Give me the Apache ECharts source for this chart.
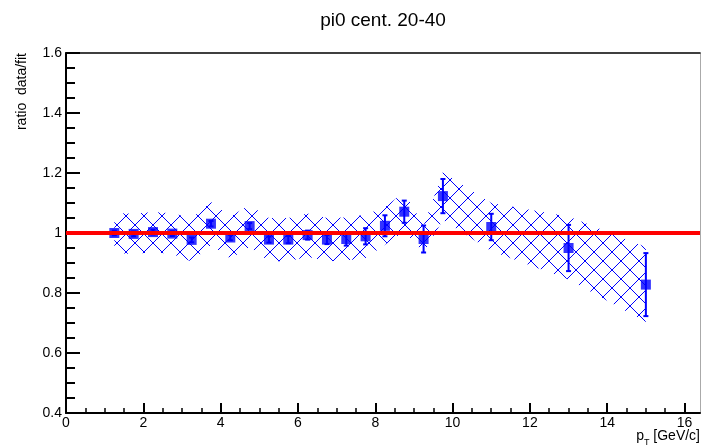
<!DOCTYPE html>
<html><head><meta charset="utf-8">
<script src="https://cdn.jsdelivr.net/npm/echarts@6/dist/echarts.min.js"></script>
<style>html,body{margin:0;padding:0;background:#fff}#c{width:703px;height:446px}</style>
</head><body><div id="c"></div>
<script>
// ---- data ----
const ptX    = [1.25, 1.75, 2.25, 2.75, 3.25, 3.75, 4.25, 4.75, 5.25, 5.75, 6.25, 6.75, 7.25, 7.75, 8.25, 8.75, 9.25, 9.75, 11, 13, 15];
const ratio  = [1.000, 0.997, 1.003, 0.998, 0.977, 1.031, 0.985, 1.023, 0.978, 0.978, 0.993, 0.978, 0.980, 0.989, 1.024, 1.071, 0.980, 1.123, 1.020, 0.950, 0.828];
const statErr= [0.008, 0.008, 0.008, 0.008, 0.008, 0.009, 0.009, 0.010, 0.010, 0.012, 0.015, 0.015, 0.022, 0.027, 0.035, 0.037, 0.045, 0.057, 0.044, 0.077, 0.105];
const sysErr = [0.067, 0.067, 0.067, 0.068, 0.072, 0.072, 0.070, 0.070, 0.072, 0.072, 0.072, 0.072, 0.072, 0.072, 0.063, 0.065, 0.045, 0.080, 0.080, 0.105, 0.125];
const fitLevel = 1;
const xRange = [0, 16.4];
const yRange = [0.4, 1.6];
const xMajorTicks = [0, 2, 4, 6, 8, 10, 12, 14, 16];
const xMinorTicks = [0.5, 1, 1.5, 2.5, 3, 3.5, 4.5, 5, 5.5, 6.5, 7, 7.5, 8.5, 9, 9.5, 10.5, 11, 11.5, 12.5, 13, 13.5, 14.5, 15, 15.5];
const titleText = 'pi0 cent. 20-40';
const yTitle = 'ratio  data/fit';

const FONT = '"Liberation Sans", Arial, Helvetica, sans-serif';
const BLUE = '#0000ff';

function makeHatch(s) {
  const c = document.createElement('canvas');
  c.width = s; c.height = s;
  const g = c.getContext('2d');
  g.strokeStyle = BLUE; g.lineWidth = 1;
  g.beginPath();
  for (let k = -1; k <= 1; k++) {
    g.moveTo(k * s, 0); g.lineTo(k * s + s, s);
    g.moveTo(k * s + s, 0); g.lineTo(k * s, s);
  }
  g.stroke();
  return c;
}
const hatch = { image: makeHatch(18), repeat: 'repeat' };

const chart = echarts.init(document.getElementById('c'), null, { renderer: 'canvas' });
const axisBlack = { color: '#000', width: 2 };

chart.setOption({
  animation: false,
  backgroundColor: '#fff',
  grid: { left: 66, right: 3, top: 53, bottom: 33, containLabel: false },
  xAxis: [
    {
      type: 'value', min: xRange[0], max: xRange[1], interval: 2, position: 'bottom',
      axisLine: { onZero: false, lineStyle: axisBlack },
      axisTick: { inside: true, length: 10, customValues: xMajorTicks, lineStyle: { color: '#000', width: 2 } },
      axisLabel: { customValues: xMajorTicks, margin: 3, fontSize: 14, color: '#000', fontFamily: FONT },
      splitLine: { show: false }
    },
    {
      type: 'value', min: xRange[0], max: xRange[1], position: 'bottom',
      axisLine: { show: false, onZero: false },
      axisTick: { inside: true, length: 5, customValues: xMinorTicks, lineStyle: { color: '#000', width: 1.5 } },
      axisLabel: { show: false },
      splitLine: { show: false }
    },
    {
      type: 'value', min: xRange[0], max: xRange[1], position: 'top',
      axisLine: { onZero: false, lineStyle: { color: '#000', width: 1.5 } },
      axisTick: { show: false }, axisLabel: { show: false }, splitLine: { show: false }
    }
  ],
  yAxis: [
    {
      type: 'value', min: yRange[0], max: yRange[1], interval: 0.2, position: 'left',
      axisLine: { onZero: false, lineStyle: axisBlack },
      axisTick: { inside: true, length: 14, lineStyle: { color: '#000', width: 2 } },
      minorTick: { show: true, splitNumber: 4, length: 9, lineStyle: { color: '#000', width: 2 } },
      axisLabel: { margin: 4, fontSize: 14, color: '#000', fontFamily: FONT },
      splitLine: { show: false }
    },
    {
      type: 'value', min: yRange[0], max: yRange[1], position: 'right',
      axisLine: { onZero: false, lineStyle: { color: '#aaa', width: 1 } },
      axisTick: { show: false }, axisLabel: { show: false }, splitLine: { show: false }
    }
  ],
  graphic: [
    { type: 'text', x: 383, y: 21, style: { text: titleText, font: '19px ' + FONT, fill: '#000', align: 'center', verticalAlign: 'middle' } },
    { type: 'text', x: 22, y: 53, rotation: Math.PI / 2, style: { text: yTitle, font: '14px ' + FONT, fill: '#000', align: 'right', verticalAlign: 'middle' } },
    { type: 'text', x: 700, y: 429, style: {
        text: '{a|p}{s|T}{a| [GeV/c]}', align: 'right', verticalAlign: 'top', fill: '#000',
        rich: {
          a: { fontSize: 14, fontFamily: FONT, lineHeight: 16, verticalAlign: 'top', color: '#000' },
          s: { fontSize: 9, fontFamily: FONT, lineHeight: 9, padding: [9, 0, 0, 0], verticalAlign: 'top', color: '#000' }
        } } }
  ],
  series: [
    {
      name: 'sys', type: 'custom', xAxisIndex: 0, yAxisIndex: 0, z: 1, silent: true, clip: true,
      data: [[ptX[0], ratio[0]]],
      renderItem: function (params, api) {
        const upper = ptX.map((x, i) => api.coord([x, ratio[i] + sysErr[i]]));
        const lower = ptX.map((x, i) => api.coord([x, ratio[i] - sysErr[i]])).reverse();
        return { type: 'polygon', shape: { points: upper.concat(lower) }, style: { fill: hatch, stroke: null } };
      }
    },
    {
      name: 'stat', type: 'custom', xAxisIndex: 0, yAxisIndex: 0, z: 2, silent: true,
      data: ptX.map((x, i) => [x, ratio[i] - statErr[i], ratio[i] + statErr[i]]),
      encode: { x: 0, y: [1, 2] },
      renderItem: function (params, api) {
        const lo = api.coord([api.value(0), api.value(1)]);
        const hi = api.coord([api.value(0), api.value(2)]);
        const cw = 2.5;
        const st = { stroke: BLUE, lineWidth: 2 };
        return { type: 'group', children: [
          { type: 'line', shape: { x1: lo[0], y1: lo[1], x2: hi[0], y2: hi[1] }, style: st },
          { type: 'line', shape: { x1: lo[0] - cw, y1: lo[1], x2: lo[0] + cw, y2: lo[1] }, style: st },
          { type: 'line', shape: { x1: hi[0] - cw, y1: hi[1], x2: hi[0] + cw, y2: hi[1] }, style: st }
        ] };
      }
    },
    {
      name: 'ratio', type: 'scatter', xAxisIndex: 0, yAxisIndex: 0, z: 3, silent: true,
      symbol: 'rect', symbolSize: 10, itemStyle: { color: BLUE },
      data: ptX.map((x, i) => [x, ratio[i]])
    },
    {
      name: 'fit', type: 'line', xAxisIndex: 0, yAxisIndex: 0, z: 5, silent: true,
      symbol: 'none', lineStyle: { color: '#ff0000', width: 4 },
      data: [[xRange[0], fitLevel], [xRange[1], fitLevel]]
    }
  ]
});
</script>
</body></html>
